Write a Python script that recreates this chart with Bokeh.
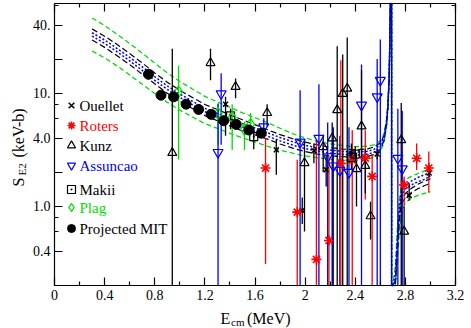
import math
from bokeh.plotting import figure
from bokeh.models import (FixedTicker, LinearAxis, LogAxis, Range1d, Label,
                          Legend, LegendItem)
from bokeh.embed import file_html
from bokeh.resources import INLINE

# ---------------- data ----------------
ouellet_E = [1.365, 1.77, 1.977, 2.07, 2.168, 2.37, 2.575, 2.83, 2.99]
ouellet_S = [8.0, 3.16, 0.92, 3.1, 2.11, 2.9, 2.9, 1.25, 1.97]
ouellet_lo = [4.2, 1.9, 0.7, 2.4, 1.5, 2.3, 2.6, 1.12, 1.8]
ouellet_hi = [9.3, 3.87, 1.2, 3.6, 2.8, 3.6, 3.2, 1.6, 2.3]

roters_E = [1.684, 1.937, 2.09, 2.19, 2.285, 2.376, 2.48, 2.535, 2.79, 2.89, 2.987]
roters_S = [2.18, 0.89, 0.34, 0.50, 2.4, 2.58, 2.67, 1.84, 1.55, 2.66, 2.18]
roters_lo = [0.31, 0.2, 0.2, 0.2, 0.2, 0.2, 1.15, 0.2, 1.02, 2.1, 1.32]
roters_hi = [3.99, 2.58, 3.9, 2.8, 19.5, 4.7, 4.7, 2.9, 1.84, 3.6, 3.05]

kunz_E = [0.94, 1.245, 1.445, 1.697, 1.995, 2.144, 2.216, 2.256, 2.30, 2.336,
          2.41, 2.45, 2.48, 2.522, 2.767, 2.79]
kunz_S = [2.97, 18.5, 11.4, 6.7, 2.42, 3.35, 4.0, 7.1, 9.9, 11.0,
          2.14, 5.1, 2.28, 0.82, 3.85, 0.6]
kunz_lo = [0.2, 13.0, 9.0, 5.1, 0.6, 2.0, 0.2, 0.2, 0.2, 0.2,
           1.0, 2.6, 1.3, 0.51, 0.2, 0.2]
kunz_hi = [24.7, 24.7, 13.5, 8.0, 3.9, 4.3, 5.5, 26.0, 22.0, 31.0,
           3.0, 16.0, 3.2, 1.1, 8.2, 1.0]

assuncao_E = [1.305, 1.33, 1.67, 1.96, 2.11, 2.18, 2.225, 2.277, 2.35, 2.45,
              2.575, 2.60, 2.74, 2.775]
assuncao_S = [3.0, 9.9, 5.05, 3.7, 4.0, 2.75, 2.28, 2.08, 2.0, 7.85,
              9.3, 13.0, 2.66, 2.15]
assuncao_lo = [0.2, 3.5, 4.0, 0.2, 0.2, 0.2, 0.2, 0.2, 0.2, 0.2,
               0.2, 0.2, 0.2, 0.2]
assuncao_hi = [8.0, 15.0, 6.0, 10.6, 12.0, 5.5, 5.0, 4.2, 5.0, 17.9,
               20.0, 29.8, 7.3, 7.0]

makii_E = [1.405, 1.59, 2.37, 2.40]
makii_S = [6.3, 4.13, 2.7, 2.9]
makii_lo = [4.8, 3.2, 2.1, 2.4]
makii_hi = [7.3, 5.0, 3.3, 3.4]

plag_E = [0.99, 1.306, 1.418, 1.516, 1.565]
plag_S = [10.3, 6.6, 6.1, 4.8, 5.3]
plag_lo = [2.6, 3.5, 3.15, 3.15, 4.3]
plag_hi = [17.6, 8.2, 8.0, 5.6, 6.7]

mit_E = [0.75, 0.85, 0.95, 1.05, 1.15, 1.25, 1.35, 1.45, 1.55, 1.65]
mit_S = [14.7, 9.6, 9.28, 8.0, 7.19, 6.5, 5.71, 5.3, 4.73, 4.43]

# fit curves (band edges); the pole runs off the top edge
fit_E = [0.30, 0.40, 0.50, 0.60, 0.70, 0.80, 0.90, 1.00, 1.10, 1.20, 1.30, 1.40,
         1.50, 1.60, 1.70, 1.80, 1.90, 2.00, 2.10, 2.20, 2.30, 2.40, 2.50,
         2.55, 2.60, 2.63, 2.65, 2.66, 2.67, 2.675, 2.68, 2.69, 2.69,
         2.70, 2.72, 2.735, 2.75, 2.765, 2.78, 2.80, 2.85, 2.90, 2.95, 3.00]
green_hi = [46.2, 39.6, 33.1, 27.5, 22.6, 18.4, 15.1, 12.7, 10.9, 9.37, 8.38, 7.48,
            6.71, 6.08, 5.49, 4.9, 4.39, 4.02, 3.75, 3.57, 3.45, 3.37, 3.4,
            3.5, 3.81, 4.4, 5.94, 7.95, 13.6, 26.0, 62.0, 62.0, 0.2,
            0.2, 0.3, 0.6, 1.1, 1.45, 1.6, 1.72, 1.85, 1.95, 2.05, 2.15]
green_lo = [23.6, 20.5, 17.4, 14.5, 12.0, 9.93, 8.3, 7.09, 6.17, 5.38, 4.89, 4.42,
            4.03, 3.71, 3.40, 3.14, 2.95, 2.79, 2.69, 2.61, 2.56, 2.55, 2.61,
            2.74, 3.04, 3.64, 5.09, 7.08, 12.4, 24.0, 62.0, 62.0, 0.2,
            0.2, 0.2, 0.3, 0.55, 0.8, 0.95, 1.08, 1.18, 1.25, 1.3, 1.35]
black_hi = [37.0, 31.9, 26.9, 22.4, 18.5, 15.1, 12.5, 10.6, 9.18, 7.95, 7.17, 6.44,
            5.82, 5.27, 4.75, 4.31, 3.96, 3.69, 3.5, 3.32, 3.21, 3.16, 3.22,
            3.35, 3.64, 4.2, 5.72, 7.73, 13.3, 25.5, 62.0, 62.0, 0.2,
            0.2, 0.22, 0.42, 0.78, 1.08, 1.2, 1.3, 1.45, 1.57, 1.67, 1.75]
black_lo = [29.5, 25.4, 21.4, 17.9, 14.7, 12.1, 10.0, 8.48, 7.32, 6.34, 5.71, 5.13,
            4.64, 4.28, 3.93, 3.56, 3.27, 3.05, 2.89, 2.8, 2.75, 2.71, 2.76,
            2.87, 3.18, 3.81, 5.29, 7.28, 12.7, 24.5, 62.0, 62.0, 0.2,
            0.2, 0.2, 0.38, 0.7, 0.98, 1.1, 1.2, 1.33, 1.43, 1.52, 1.6]
blue_hi = [34.2, 29.5, 24.8, 20.7, 17.1, 14.0, 11.6, 9.83, 8.49, 7.35, 6.62, 5.95,
           5.38, 4.92, 4.47, 4.06, 3.73, 3.47, 3.28, 3.15, 3.06, 3.02, 3.07,
           3.19, 3.5, 4.1, 5.6, 7.6, 13.2, 25.3, 62.0, 62.0, 0.2,
           0.2, 0.25, 0.5, 0.95, 1.3, 1.45, 1.55, 1.68, 1.8, 1.9, 2.0]
blue_lo = [31.9, 27.5, 23.2, 19.3, 15.9, 13.0, 10.8, 9.18, 7.92, 6.86, 6.18, 5.56,
           5.02, 4.59, 4.17, 3.79, 3.48, 3.24, 3.08, 2.95, 2.88, 2.84, 2.89,
           3.01, 3.3, 3.9, 5.4, 7.4, 12.8, 24.7, 62.0, 62.0, 0.2,
           0.2, 0.22, 0.45, 0.85, 1.15, 1.3, 1.42, 1.55, 1.65, 1.73, 1.85]

x_ticks = [0, 0.4, 0.8, 1.2, 1.6, 2.0, 2.4, 2.8, 3.2]
x_tick_labels = ["0", "0.4", "0.8", "1.2", "1.6", "2", "2.4", "2.8", "3.2"]
x_minor = [0.2, 0.6, 1.0, 1.4, 1.8, 2.2, 2.6, 3.0]
y_ticks = [0.4, 1, 2, 4, 10, 20, 40]
y_tick_labels = ["0.4", "1.0", "", "4.0", "10.", "", "40."]
y_minor = [0.6, 0.8, 6, 8, 60]

X_MIN, X_MAX = 0.0, 3.2
Y_MIN, Y_MAX = 0.2, 62.0

# ---------------- layout (pixels) ----------------
W, H = 468, 328
BOX_L, BOX_R, BOX_T, BOX_B = 54, 455, 3, 285
sx = (BOX_R - BOX_L) / (X_MAX - X_MIN)
ly = (BOX_B - BOX_T) / (math.log10(Y_MAX) - math.log10(Y_MIN))
x_start = X_MIN - BOX_L / sx
x_end = X_MAX + (W - BOX_R) / sx
y_start = 10 ** (math.log10(Y_MIN) - (H - BOX_B) / ly)
y_end = 10 ** (math.log10(Y_MAX) + BOX_T / ly)

FONT = "Liberation Serif, Times New Roman, serif"
RED = "#ff0000"
BLUE = "#0000ff"
GREEN = "#00dd00"
BLACK = "#000000"

p = figure(width=W, height=H, x_range=Range1d(x_start, x_end),
           y_range=Range1d(y_start, y_end), y_axis_type="log",
           output_backend="svg", toolbar_location=None,
           min_border_left=0, min_border_right=0, min_border_top=0, min_border_bottom=0)
p.title.visible = False
p.xgrid.visible = False
p.ygrid.visible = False
p.outline_line_color = None
p.background_fill_color = "white"
p.border_fill_color = "white"

xt = FixedTicker(ticks=x_ticks, minor_ticks=x_minor)
yt = FixedTicker(ticks=y_ticks, minor_ticks=y_minor)


def style_axis(ax, show_labels, overrides, loc, bounds):
    ax.fixed_location = loc
    ax.bounds = bounds
    ax.axis_line_color = BLACK
    ax.axis_line_width = 1.2
    ax.major_tick_in = 8
    ax.major_tick_out = 0
    ax.minor_tick_in = 4
    ax.minor_tick_out = 0
    ax.major_tick_line_width = 1.2
    ax.minor_tick_line_width = 1.2
    ax.major_tick_line_color = BLACK
    ax.minor_tick_line_color = BLACK
    if show_labels:
        ax.major_label_overrides = overrides
        ax.major_label_text_font = FONT
        ax.major_label_text_font_size = "14px"
        ax.major_label_text_color = BLACK
        ax.major_label_standoff = 4
    else:
        ax.major_label_overrides = {k: "" for k in overrides}
        ax.major_label_text_font_size = "0px"
        ax.major_label_standoff = 0


xo = dict(zip(x_ticks, x_tick_labels))
yo = dict(zip(y_ticks, y_tick_labels))

p.xaxis[0].ticker = xt
p.yaxis[0].ticker = yt
style_axis(p.xaxis[0], True, xo, Y_MIN, (X_MIN, X_MAX))
style_axis(p.yaxis[0], True, yo, X_MIN, (Y_MIN, Y_MAX))

top = LinearAxis(ticker=xt)
style_axis(top, False, xo, Y_MAX, (X_MIN, X_MAX))
p.add_layout(top, "above")
right = LogAxis(ticker=yt)
style_axis(right, False, yo, X_MAX, (Y_MIN, Y_MAX))
p.add_layout(right, "right")

# ---------------- fit bands ----------------
for ys in (green_hi, green_lo):
    p.line(fit_E, ys, line_color=GREEN, line_width=1.3, line_dash="5 3")
for ys in (black_hi, black_lo):
    p.line(fit_E, ys, line_color=BLACK, line_width=1.2, line_dash="6 3")
for ys in (blue_hi, blue_lo):
    p.line(fit_E, ys, line_color=BLUE, line_width=1.5, line_dash="2 2")

# ---------------- error bars ----------------
def bars(E, lo, hi, color):
    p.segment(x0=E, y0=lo, x1=E, y1=hi, line_color=color, line_width=1.3)

bars(plag_E, plag_lo, plag_hi, GREEN)
bars(assuncao_E, assuncao_lo, assuncao_hi, BLUE)
bars(roters_E, roters_lo, roters_hi, RED)
bars(kunz_E, kunz_lo, kunz_hi, BLACK)
bars(ouellet_E, ouellet_lo, ouellet_hi, BLACK)
bars(makii_E, makii_lo, makii_hi, BLACK)

# ---------------- markers ----------------
r_ou = p.scatter(ouellet_E, ouellet_S, marker="x", size=7, line_color=BLACK, line_width=1.5)
r_ro = p.scatter(roters_E, roters_S, marker="asterisk", size=10, line_color=RED, line_width=1.6)
r_ku = p.scatter(kunz_E, kunz_S, marker="triangle", size=9, line_color=BLACK,
                 fill_color="white", fill_alpha=0.0, line_width=1.2)
r_as = p.scatter(assuncao_E, assuncao_S, marker="inverted_triangle", size=10, line_color=BLUE,
                 fill_color="white", fill_alpha=0.0, line_width=1.2)
r_ma = p.scatter(makii_E, makii_S, marker="square_dot", size=8, line_color=BLACK,
                 fill_color="white", fill_alpha=0.0, line_width=1.2)
r_pl = p.scatter(plag_E, plag_S, marker="diamond", size=12, line_color=GREEN,
                 fill_color="white", fill_alpha=0.0, line_width=1.3)
r_mi = p.scatter(mit_E, mit_S, marker="circle", size=10, line_color=BLACK, fill_color=BLACK)


def lab(px, py, text, size, angle=0.0, color=BLACK, baseline="alphabetic"):
    p.add_layout(Label(x=px, y=H - py, x_units="screen", y_units="screen", text=text,
                       angle=angle, text_font=FONT, text_font_size=size,
                       text_color=color, text_align="left", text_baseline=baseline))


# ---------------- legend: library glyph samples + serif coloured texts ----------------
legend_rows = [("Ouellet", r_ou, BLACK, 105), ("Roters", r_ro, RED, 125),
               ("Kunz", r_ku, BLACK, 145), ("Assuncao", r_as, BLUE, 165),
               ("Makii", r_ma, BLACK, 189), ("Plag", r_pl, GREEN, 207),
               ("Projected MIT", r_mi, BLACK, 228)]
for text, rend, col, cy in legend_rows:
    lg = Legend(items=[LegendItem(label=" ", renderers=[rend])],
                location=(61, H - (cy + 10)),
                padding=0, margin=0, spacing=0, glyph_width=20, glyph_height=20,
                label_height=20, label_standoff=0, label_text_font_size="8px",
                border_line_alpha=0, background_fill_alpha=0)
    p.add_layout(lg, "center")
    lab(79, cy, text, "15px", color=col, baseline="middle")

# ---------------- axis titles (with subscripts) ----------------
lab(220, 318, "E", "16px")
lab(230.5, 321.5, "cm", "11px")
lab(246.5, 318, "(MeV)", "16px")
lab(18.3, 186, "S", "16px", math.pi / 2)
lab(21.5, 175, "E2", "11px", math.pi / 2)
lab(18.3, 157, "(keV-b)", "16px", math.pi / 2)

open("out.html", "w").write(file_html(p, INLINE))
